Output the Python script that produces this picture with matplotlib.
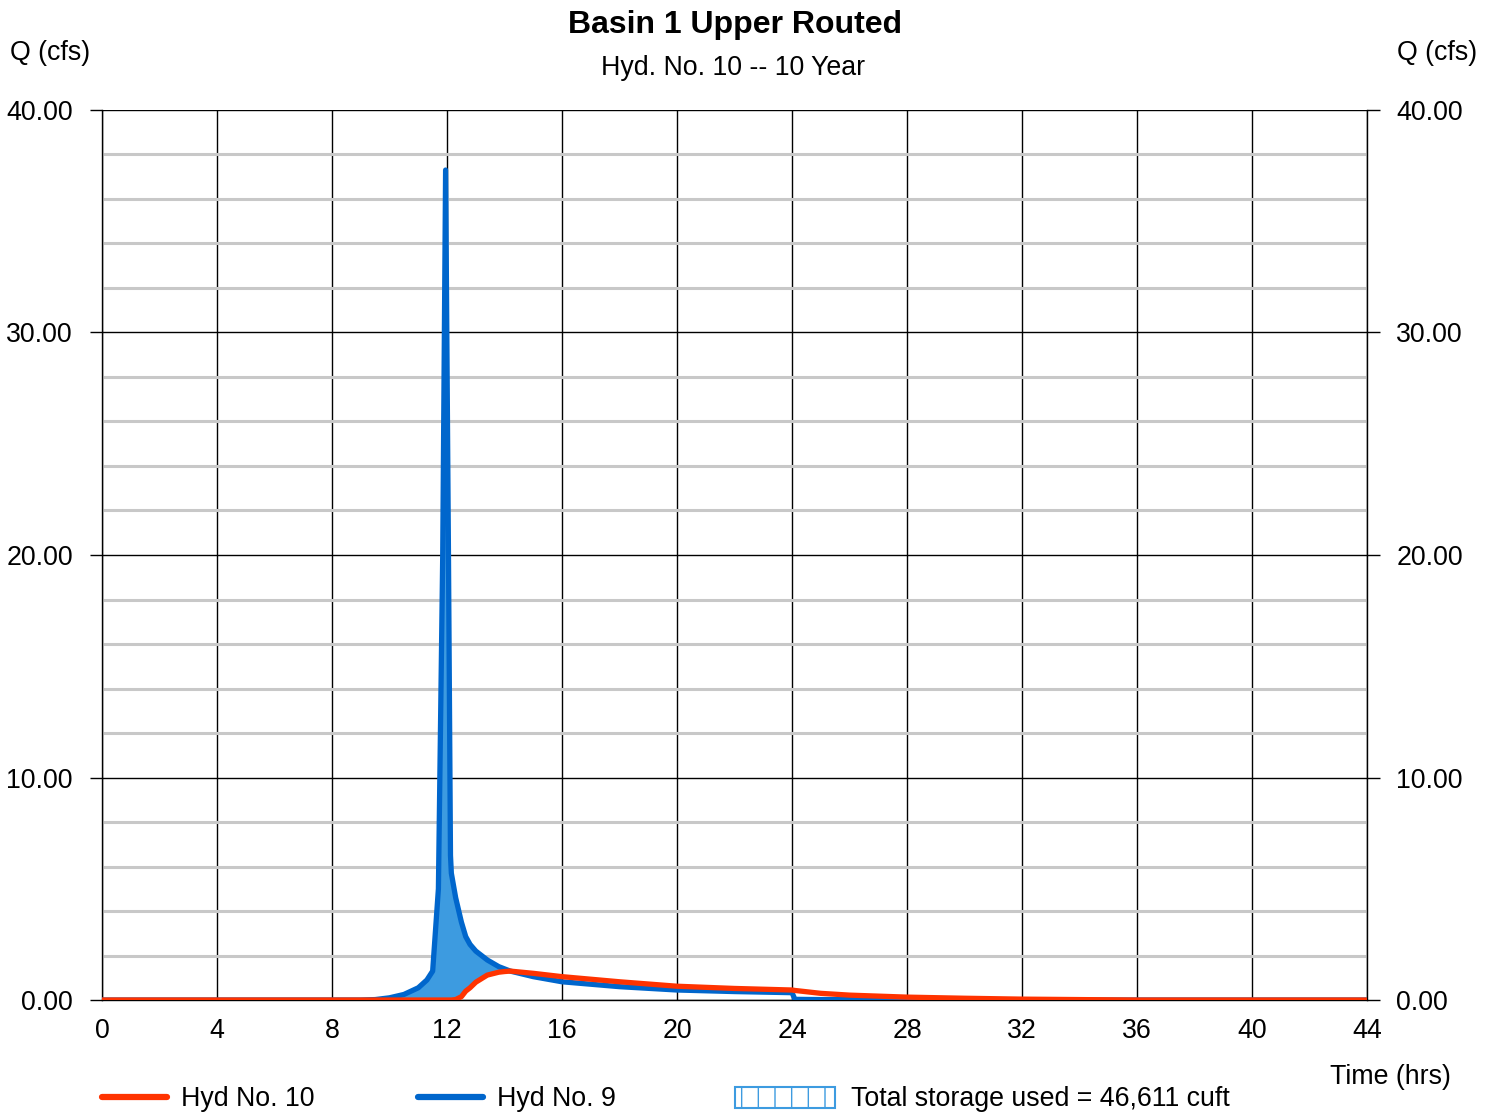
import numpy as np
import matplotlib.pyplot as plt
from matplotlib.lines import Line2D
from matplotlib.patches import Rectangle

plt.rcParams['font.family'] = ['Liberation Sans', 'DejaVu Sans']

# Hydrograph data (time in hrs, flow in cfs)
time_hrs = [0, 9.0, 9.5, 10.0, 10.5, 11.0, 11.3, 11.5, 11.7, 11.85, 11.95,
            12.05, 12.12, 12.15, 12.3, 12.5, 12.65, 12.8, 13.0, 13.4, 13.8,
            14.0, 14.2, 15.0, 16.0, 18.0, 20.0, 22.0, 24.0, 24.1, 25.0,
            26.0, 28.0, 30.0, 32.0, 34.0, 36.0, 44.0]
hyd9 = [0, 0, 0.02, 0.1, 0.25, 0.55, 0.9, 1.3, 5.0, 20.0, 37.3,
        20.0, 6.5, 5.7, 4.6, 3.5, 2.85, 2.5, 2.2, 1.8, 1.5,
        1.4, 1.3, 1.05, 0.82, 0.6, 0.45, 0.38, 0.33, 0.03, 0.02,
        0.02, 0.01, 0.0, 0.0, 0.0, 0.0, 0.0]
hyd10 = [0, 0, 0, 0, 0, 0, 0, 0, 0, 0, 0,
         0, 0, 0, 0.02, 0.15, 0.4, 0.55, 0.8, 1.12, 1.25,
         1.28, 1.3, 1.2, 1.05, 0.82, 0.62, 0.52, 0.45, 0.43, 0.3,
         0.22, 0.13, 0.08, 0.04, 0.02, 0.0, 0.0]

x_ticks = np.arange(0, 45, 4)
y_ticks = [0, 10, 20, 30, 40]
storage_text = 'Total storage used = 46,611 cuft'

red = '#FF3300'
blue = '#0066CC'
fill_blue = '#3D9BE0'
fs = 19.3

fig = plt.figure(figsize=(14.96, 11.12), dpi=100)
ax = fig.add_axes([0.0682, 0.1007, 0.8456, 0.8004])

t = np.array(time_hrs)
q9 = np.array(hyd9)
q10 = np.array(hyd10)

# Storage area between inflow and outflow
ax.fill_between(t, q10, q9, where=q9 >= q10, interpolate=True,
                color=fill_blue, linewidth=0, zorder=2)
ax.plot(t, q9, color=blue, lw=3.8, solid_capstyle='round',
        solid_joinstyle='round', zorder=3)
ax.plot(t, q10, color=red, lw=3.8, solid_capstyle='round',
        solid_joinstyle='round', zorder=4)

ax.set_xlim(0, 44)
ax.set_ylim(0, 40)
ax.set_xticks(x_ticks)
ax.set_yticks(y_ticks)
ax.set_yticks(np.arange(0, 41, 2), minor=True)
ax.set_yticklabels([f'{v:.2f}' for v in y_ticks])

ax.grid(True, which='major', axis='both', color='black', lw=1.0, zorder=1)
ax.grid(True, which='minor', axis='y', color='#C8C8C8', lw=2.2, zorder=0.5)
ax.set_axisbelow(True)

ax.tick_params(axis='y', which='major', left=True, right=True,
               labelleft=True, labelright=True, direction='out',
               length=9, width=1, pad=12, labelsize=fs)
ax.tick_params(axis='y', which='minor', left=False, right=False)
ax.tick_params(axis='x', which='major', length=0, pad=13, labelsize=fs)

for side in ['left', 'right', 'bottom']:
    ax.spines[side].set_color('black')
    ax.spines[side].set_linewidth(1.0)
ax.spines['top'].set_visible(False)


def fy(py):
    return 1 - py / 1112


# Titles and axis labels
fig.text(735 / 1496, fy(25), 'Basin 1 Upper Routed', ha='center',
         va='center', fontsize=23, fontweight='bold')
fig.text(733 / 1496, fy(68), 'Hyd. No. 10 -- 10 Year', ha='center',
         va='center', fontsize=fs)
fig.text(10 / 1496, fy(53), 'Q (cfs)', ha='left', va='center', fontsize=fs)
fig.text(1477 / 1496, fy(53), 'Q (cfs)', ha='right', va='center',
         fontsize=fs)
fig.text(1451 / 1496, fy(1077), 'Time (hrs)', ha='right', va='center',
         fontsize=fs)

# Legend row
ly = fy(1097)
fig.add_artist(Line2D([102 / 1496, 167 / 1496], [ly, ly], color=red, lw=4.5,
                      solid_capstyle='round'))
fig.text(181 / 1496, fy(1099), 'Hyd No. 10', ha='left', va='center',
         fontsize=fs)
fig.add_artist(Line2D([418 / 1496, 483 / 1496], [ly, ly], color=blue, lw=4.5,
                      solid_capstyle='round'))
fig.text(497 / 1496, fy(1099), 'Hyd No. 9', ha='left', va='center',
         fontsize=fs)
plt.rcParams['hatch.color'] = fill_blue
fig.add_artist(Rectangle((735 / 1496, fy(1108)), 100 / 1496, 21 / 1112,
                         transform=fig.transFigure, facecolor='white',
                         edgecolor=fill_blue, lw=1.5, hatch='|'))
fig.text(851 / 1496, fy(1099), storage_text, ha='left', va='center',
         fontsize=fs)

fig.savefig('out.png', dpi=100)
